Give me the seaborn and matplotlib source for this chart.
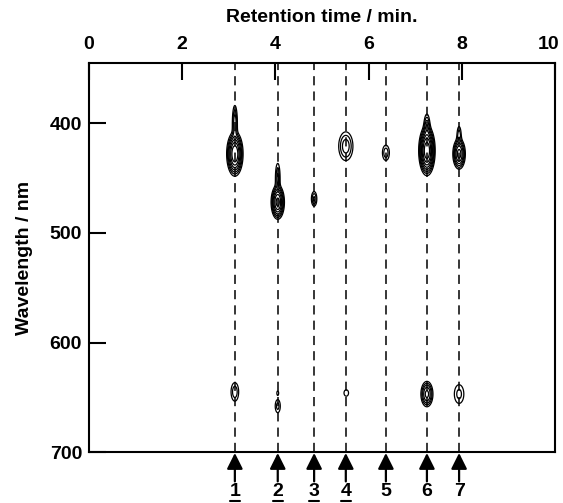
import numpy as np
import matplotlib
matplotlib.use("Agg")
import matplotlib.pyplot as plt
import matplotlib.transforms as mtransforms
import seaborn as sns

# Peak numbers and their retention times (min)
peak_labels = ["1", "2", "3", "4", "5", "6", "7"]
peak_times = [3.13, 4.05, 4.83, 5.51, 6.37, 7.25, 7.94]
underlined = [True, True, True, True, False, False, False]

# Spot components of the contour map: time, wavelength, spreads, height
spot_time = [3.13, 3.13, 4.05, 4.05, 4.83, 5.51, 6.37, 7.25, 7.25, 7.94, 7.94,
             3.13, 4.05, 4.05, 5.52, 7.25, 7.94]
spot_wl = [428, 400, 472, 450, 469, 421, 427, 425, 405, 428, 412,
           645, 658, 646, 646, 647, 647]
spot_sx = [0.065, 0.03, 0.055, 0.03, 0.035, 0.085, 0.05, 0.062, 0.035, 0.055, 0.03,
           0.055, 0.04, 0.02, 0.05, 0.058, 0.075]
spot_sw = [7.5, 9.0, 6.0, 8.0, 4.0, 7.3, 4.7, 8.0, 7.0, 5.7, 6.0,
           5.7, 4.4, 2.0, 3.0, 5.2, 6.3]
spot_amp = [40, 5, 30, 4, 4, 5, 3, 60, 6, 20, 3,
            3, 2.5, 1.5, 1.6, 12, 2.5]

contour_levels = [1, 2, 3.5, 6, 10, 16, 25, 40]

sns.set_theme(style="ticks")
plt.rcParams["font.family"] = ["Liberation Sans", "DejaVu Sans"]

t = np.linspace(0, 10, 1600)
wl = np.linspace(345, 700, 900)
T, W = np.meshgrid(t, wl)
Z = np.zeros_like(T)
for x0, w0, sx, sw, a in zip(spot_time, spot_wl, spot_sx, spot_sw, spot_amp):
    Z += a * np.exp(-0.5 * (((T - x0) / sx) ** 2 + ((W - w0) / sw) ** 2))

fig = plt.figure(figsize=(5.63, 5.03), dpi=100)
ax = fig.add_axes([0.158, 0.101, 0.828, 0.774])

ax.contour(T, W, Z, levels=contour_levels, colors="black", linewidths=0.9)

for pt in peak_times:
    ax.axvline(pt, color="black", lw=1.1, ls=(0, (6, 4)), zorder=1)

ax.set_xlim(0, 10)
ax.set_ylim(700, 345)
ax.set_xticks([0, 2, 4, 6, 8, 10])
ax.set_yticks([400, 500, 600, 700])
ax.xaxis.tick_top()
ax.xaxis.set_label_position("top")
ax.tick_params(axis="both", direction="in", length=12.5, width=1.5, color="black",
               labelsize=14, labelcolor="black")
ax.tick_params(axis="x", pad=7)
ax.tick_params(axis="y", pad=5)
for lab in ax.get_xticklabels() + ax.get_yticklabels():
    lab.set_fontweight("bold")
# keep the last top label inside the figure
last = ax.get_xticklabels()[-1]
last.set_transform(last.get_transform() +
                   mtransforms.ScaledTranslation(-5 / 72, 0, fig.dpi_scale_trans))
for sp in ax.spines.values():
    sp.set_visible(True)
    sp.set_linewidth(1.5)
    sp.set_color("black")

ax.set_xlabel("Retention time / min.", fontsize=14, fontweight="bold",
              labelpad=10, color="black")
ax.set_ylabel("Wavelength / nm", fontsize=14, fontweight="bold",
              labelpad=12, color="black")

# arrows and peak numbers below the map
trans = mtransforms.blended_transform_factory(ax.transData, ax.transAxes)
for pt, lab, ul in zip(peak_times, peak_labels, underlined):
    ax.annotate("", xy=(pt, -0.002), xycoords=trans,
                xytext=(pt, -0.075), textcoords=trans,
                arrowprops=dict(arrowstyle="-|>", color="black", lw=1.6,
                                mutation_scale=24, shrinkA=0, shrinkB=0),
                annotation_clip=False)
    ax.text(pt, -0.1, lab, transform=trans, ha="center", va="center",
            fontsize=14, fontweight="bold", color="black")
    if ul:
        ax.plot([pt - 0.11, pt + 0.11], [-0.126, -0.126], transform=trans,
                color="black", lw=1.5, clip_on=False)

fig.savefig("out.png", dpi=100)
